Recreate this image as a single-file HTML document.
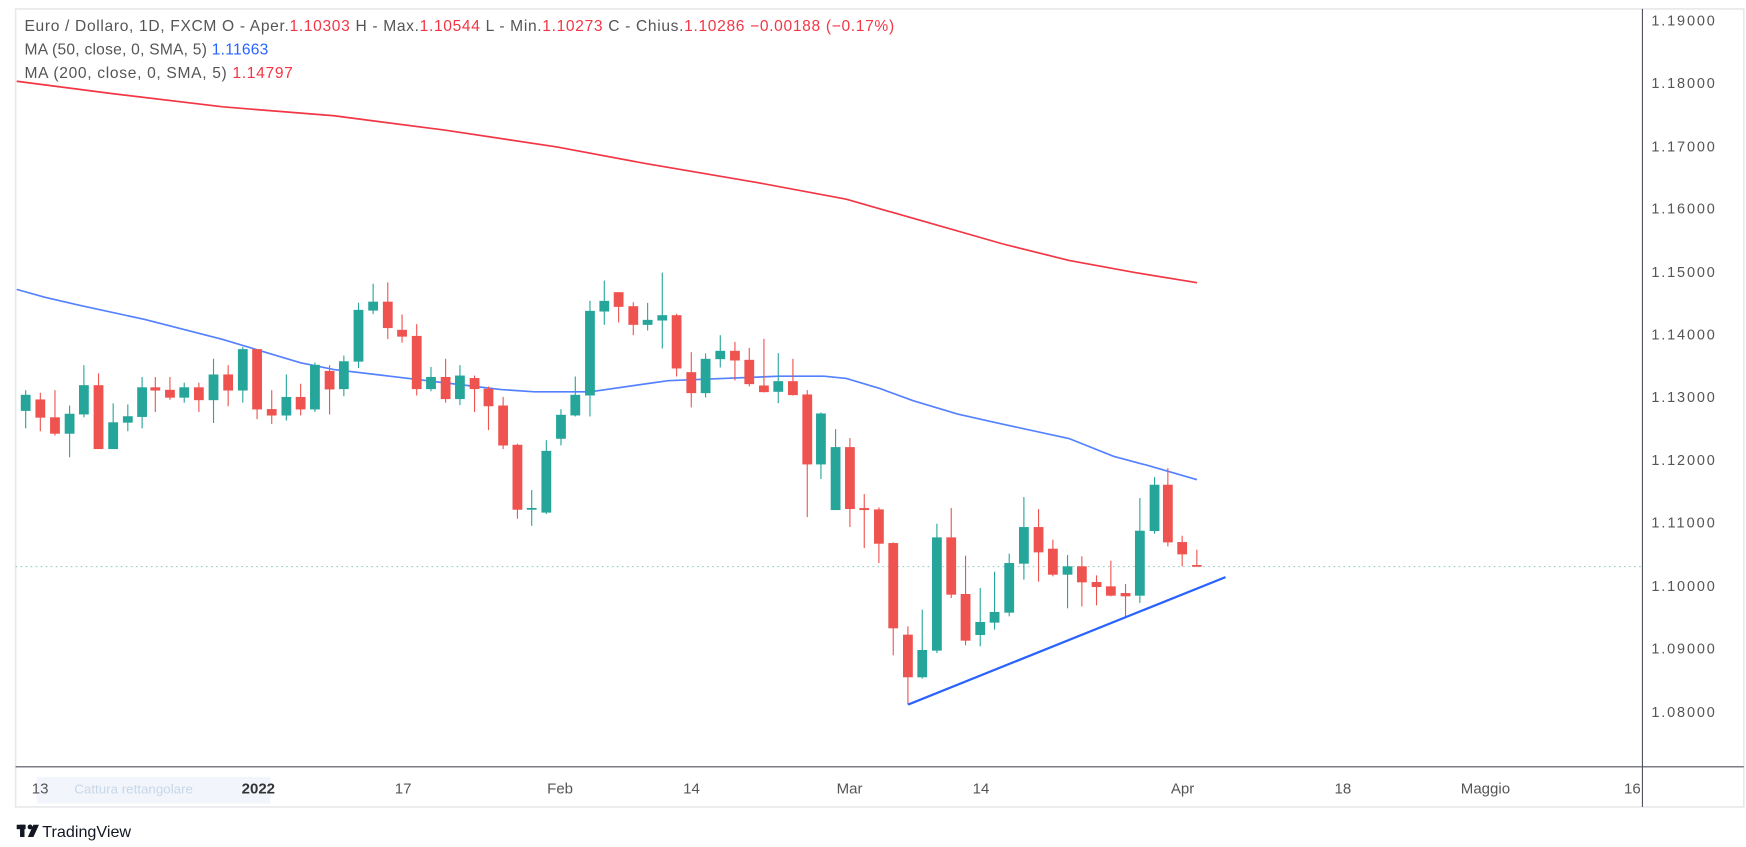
<!DOCTYPE html>
<html><head><meta charset="utf-8"><style>
html,body{margin:0;padding:0;background:#fff;}
svg{display:block;font-family:"Liberation Sans",sans-serif;}
</style></head><body>
<svg id="s" width="1746" height="847" viewBox="0 0 1568 761" preserveAspectRatio="none" xmlns="http://www.w3.org/2000/svg">
<rect x="0" y="0" width="1568" height="761" fill="#fff"/>
<rect x="14" y="8" width="1552" height="717" fill="none" stroke="#e8e9ec" stroke-width="1.5"/>
<line x1="1475" y1="8" x2="1475" y2="725" stroke="#50535e" stroke-width="1"/>
<line x1="14" y1="689" x2="1566" y2="689" stroke="#50535e" stroke-width="1"/>
<line x1="14" y1="509" x2="1475" y2="509" stroke="#9ad0c8" stroke-width="1" stroke-dasharray="1.5,3"/>
<g id="ma" fill="none" stroke-width="1.5">
<polyline stroke="#f23645" points="15,73 100,84 200,96 300,104 400,117 500,132 580,147 680,164 760,179 830,199 900,219 960,234 1020,245 1075,254"/>
<polyline stroke="#2962ff" stroke-opacity="0.8" points="15,260 40,267 70,274 130,287 200,305 270,326 300,332 350,338 400,344 450,350 480,352 530,352 600,342 650,340 700,338 740,338 760,340 790,349 820,360 860,372 900,381 960,394 1000,410 1030,418 1075,431"/>
</g>
<g id="c"></g>
<line x1="815.6" y1="633" x2="1100.6" y2="518.5" stroke="#2962ff" stroke-width="2"/>
<g font-size="13" fill="#555">
<text x="1483" y="23" textLength="57" lengthAdjust="spacing">1.19000</text><text x="1483" y="79" textLength="57" lengthAdjust="spacing">1.18000</text><text x="1483" y="136" textLength="57" lengthAdjust="spacing">1.17000</text><text x="1483" y="192" textLength="57" lengthAdjust="spacing">1.16000</text><text x="1483" y="249" textLength="57" lengthAdjust="spacing">1.15000</text><text x="1483" y="305" textLength="57" lengthAdjust="spacing">1.14000</text><text x="1483" y="361" textLength="57" lengthAdjust="spacing">1.13000</text><text x="1483" y="418" textLength="57" lengthAdjust="spacing">1.12000</text><text x="1483" y="474" textLength="57" lengthAdjust="spacing">1.11000</text><text x="1483" y="531" textLength="57" lengthAdjust="spacing">1.10000</text><text x="1483" y="587" textLength="57" lengthAdjust="spacing">1.09000</text><text x="1483" y="644" textLength="57" lengthAdjust="spacing">1.08000</text>
</g>
<rect x="33" y="698" width="210" height="24" fill="#f2f6fc"/>
<g font-size="13.5" fill="#555" text-anchor="middle">
<text x="36" y="713">13</text>
<text x="120" y="713" fill="#c8d6e8" font-size="12">Cattura rettangolare</text>
<text x="232" y="713" font-weight="bold" fill="#333">2022</text>
<text x="362" y="713">17</text><text x="503" y="713">Feb</text><text x="621" y="713">14</text><text x="763" y="713">Mar</text><text x="881" y="713">14</text><text x="1062" y="713">Apr</text><text x="1206" y="713">18</text><text x="1334" y="713">Maggio</text><text x="1466" y="713">16</text>
</g>
<g font-size="14" fill="#555">
<text x="22" y="28" textLength="781" lengthAdjust="spacing">Euro / Dollaro, 1D, FXCM  O - Aper.<tspan fill="#f23645">1.10303</tspan>  H - Max.<tspan fill="#f23645">1.10544</tspan>  L - Min.<tspan fill="#f23645">1.10273</tspan>  C - Chius.<tspan fill="#f23645">1.10286  −0.00188 (−0.17%)</tspan></text>
<text x="22" y="49" textLength="219" lengthAdjust="spacing">MA (50, close, 0, SMA, 5)  <tspan fill="#2962ff">1.11663</tspan></text>
<text x="22" y="70" textLength="241" lengthAdjust="spacing">MA (200, close, 0, SMA, 5)  <tspan fill="#f23645">1.14797</tspan></text>
</g>
<g fill="#131722"><rect x="15" y="741" width="8" height="4"/><rect x="18" y="741" width="4" height="11"/><circle cx="27" cy="743" r="2.2"/><polygon points="30,741 35,741 30,752 25,752"/></g>
<text x="38" y="752" font-size="14.5" fill="#131722">TradingView</text>
</svg>
<script>
var z4=[[27,365,472,378,423,1],[68,372,480,391,442,0],[109,365,492,441,487,0],[150,408,553,431,487,1],[190,295,441,351,433,1],[231,318,530,351,530,0],[272,402,530,455,530,1],[313,405,480,438,456,1],[353,328,472,357,440,1],[390,328,426,357,366,0],[431,328,392,364,386,0],[471,344,400,357,386,1],[512,344,426,357,393,0],[553,277,457,321,393,1],[594,295,410,321,366,0],[635,244,400,250,366,1],[675,250,446,250,419,0],[716,365,460,418,436,0],[757,321,450,384,436,1],[797,347,436,384,419,0],[837,288,426,294,419,1],[878,295,433,311,363,0],[918,268,382,284,362,1],[959,120,303,140,285,1],[1000,67,152,117,142,1],[1041,63,222,117,191,0],[1081,153,232,196,215,0],[1122,180,380,213,362,0],[1162,300,368,328,362,1],[1203,277,400,328,390,0],[1243,295,407,324,390,1],[1284,324,426,331,362,0],[1323,355,477,361,410,0],[1364,384,530,408,520,0],[1404,515,725,518,700,0],[1444,645,745,695,700,1],[1485,505,712,535,708,1]];
var z5=[[33,448,557,465,537,1],[76,350,470,405,467,1],[120,123,470,153,407,1],[163,62,195,123,155,1],[206,97,188,97,141,0],[250,127,226,139,195,0],[293,129,212,180,195,1],[337,38,266,166,182,1],[380,162,350,166,326,0],[424,277,443,337,400,0],[467,281,413,297,400,1],[511,226,323,273,298,1],[555,246,362,273,302,0],[598,264,380,300,373,0],[642,237,398,377,397,0],[685,280,430,364,396,1],[729,297,407,364,406,0],[772,391,772,404,614,0],[813,458,658,461,614,1],[857,508,751,562,751,1],[900,535,802,562,748,0],[943,703,865,745,751,0],[987,743,910,749,852,0],[1030,848,1187,850,1106,0],[1074,1100,1335,1125,1253,0],[1117,1050,1257,1171,1253,1],[1161,792,1180,833,1173,1],[1204,745,1015,833,1005,0],[1247,888,1157,1003,1143,0],[1291,985,1160,1087,1126,1],[1334,936,1110,1057,1089,1],[1378,882,1070,910,1059,1],[1422,712,960,802,912,1],[1466,748,966,802,878,0]];
var z6=[[519,270,380,297,375,0],[563,316,476,350,375,1],[606,320,470,350,398,0],[650,377,467,397,412,0],[693,333,440,410,438,0],[737,403,505,430,440,0],[780,145,460,243,438,1],[824,82,252,105,244,1],[864,55,290,105,278,0],[907,258,350,277,314,0],[951,300,352,346,351,0]];
var g=document.getElementById('c'),h='';
function add(a,ox,oy,k){a.forEach(function(c){var x=ox+c[0]*k,col=c[5]?'#26a69a':'#ef5350';
var y1=oy+c[1]*k,y2=oy+c[2]*k,b1=oy+c[3]*k,b2=oy+c[4]*k;if(b2-b1<1.5)b2=b1+1.5;
h+='<line x1="'+x+'" x2="'+x+'" y1="'+y1+'" y2="'+y2+'" stroke="'+col+'" stroke-width="1"/>';
h+='<rect x="'+(x-4.4)+'" y="'+b1+'" width="8.8" height="'+(b2-b1)+'" fill="'+col+'"/>';});}
add(z4,14.4,233.5,0.3207);add(z5,493.9,233.5,0.2993);add(z6,790.2,404.1,0.2993);
g.innerHTML=h;
</script>
</body></html>
